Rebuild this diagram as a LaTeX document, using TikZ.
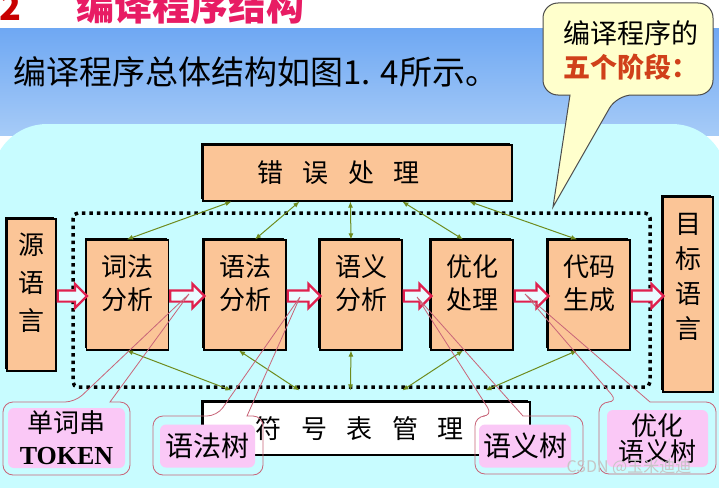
\documentclass[tikz,border=0pt]{standalone}
\usepackage{fontspec}
\setmainfont{Noto Sans CJK SC}
\newfontfamily\tms{Liberation Serif}
\usepackage{xcolor}
\usetikzlibrary{arrows.meta,shapes.arrows,shadows,calc}
\definecolor{boxor}{HTML}{FBC597}
\definecolor{bgtop}{HTML}{6FA8F3}
\definecolor{bgbot}{HTML}{A6CBF7}
\definecolor{bgcyan}{HTML}{C8FCFF}
\definecolor{titlered}{HTML}{E81C64}
\definecolor{numred}{HTML}{C80000}
\definecolor{notebg}{HTML}{FFFFCC}
\definecolor{notered}{HTML}{D0401A}
\definecolor{arrred}{HTML}{E0204E}
\definecolor{arrfill}{HTML}{EAFBFF}
\definecolor{lnkgreen}{HTML}{6E8B1E}
\definecolor{tagpink}{HTML}{FAC8F6}
\definecolor{tagline}{HTML}{C86478}
\begin{document}
\begin{tikzpicture}[x=1pt,y=-1pt,
 box/.style={draw=black,line width=1.2pt,fill=boxor,inner sep=0pt,align=center,
   font=\fontsize{26}{33}\selectfont},
 shadowed/.style={drop shadow={shadow xshift=-1.8pt,shadow yshift=1.8pt,fill=black,opacity=1}},
 phase/.style={box,shadowed,minimum width=82pt,minimum height=110pt,text depth=25pt},
 flow/.style={single arrow,draw=arrred,fill=arrfill,line width=2.2pt,inner xsep=0pt,inner ysep=4.5pt,
   single arrow head extend=6.5pt,single arrow head indent=0pt},
 link/.style={draw=lnkgreen,line width=1pt,{Latex[length=6pt,width=5pt]}-{Latex[length=6pt,width=5pt]}},
 tag/.style={fill=tagpink,rounded corners=6pt,inner sep=0pt,align=center},
 callout/.style={draw=tagline,line width=0.8pt}]
\useasboundingbox (0,0) rectangle (719,487);
\clip (0,0) rectangle (719,487);
% slide background
\fill[white] (0,0) rectangle (719,29);
\shade[top color=bgtop,bottom color=bgbot] (0,29) rectangle (719,135);
\fill[bgcyan,rounded corners=55pt] (-8,124) rectangle (727,600);
% headings
\node[anchor=base west,text=numred,font=\fontsize{36}{36}\selectfont\bfseries] (num) at (-4,21) {2};
\node[anchor=base west,text=titlered,font=\fontsize{38}{38}\selectfont\bfseries] (title) at (73,21) {编译程序结构};
\node[anchor=west,font=\fontsize{33}{33}\selectfont] (sub) at (10,72) {编译程序总体结构如图1. 4所示。};
% note
\draw[fill=notebg,draw=black!70,line width=1pt] (553,207) -- (570,95) [rounded corners=15pt] -- (543,95)
  -- (543,3) -- (713,3) -- (713,95) -- (617,95) [sharp corners] -- cycle;
\node[align=center,font=\fontsize{27}{34}\selectfont] (note) at (631,50)
  {编译程序的\\\textcolor{notered}{\bfseries 五个阶段：}};
% dotted frame
\draw[line width=3.5pt,dash pattern=on 3.5pt off 4pt,rounded corners=5pt] (73,213) rectangle (650,387);
% boxes
\node[box,shadowed,minimum width=309pt,minimum height=56pt] (err) at (357.5,173)
  {错\hspace{.75em}误\hspace{.75em}处\hspace{.75em}理\hspace{38pt}};
\node[box,shadowed,fill=white,minimum width=327pt,minimum height=53pt] (sym) at (366.5,428.5)
  {符\hspace{.75em}号\hspace{.75em}表\hspace{.75em}管\hspace{.75em}理\hspace{14pt}};
\node[box,shadowed,minimum width=49pt,minimum height=152pt,text depth=27pt,font=\fontsize{26}{38}\selectfont] (src) at (31.5,295) {源\\语\\言};
\node[box,shadowed,minimum width=50pt,minimum height=195pt,text depth=37pt,font=\fontsize{26}{35}\selectfont] (tgt) at (688,294.5) {目\\标\\语\\言};
\node[phase] (lex) at (127.5,295) {词法\\分析};
\node[phase] (syn) at (245,295) {语法\\分析};
\node[phase] (sem) at (361,295) {语义\\分析};
\node[phase] (opt) at (472,295) {优化\\处理};
\node[phase] (gen) at (589,295) {代码\\生成};
% hollow arrows
\foreach \a/\b in {src/lex,lex/syn,syn/sem,sem/opt,opt/gen,gen/tgt}
  \path let \p1=(\a.east), \p2=(\b.west) in
    node[flow,minimum height=\x2-\x1,anchor=west] (\a-\b) at (\x1,296) {};
% links to error handling and symbol table
\foreach \p/\a/\b in {lex/-0.5/29,syn/10/97,sem/-10/148,opt/-9/200,gen/-12/267}
  \draw[link] ([xshift=\b pt]err.south west) -- ([xshift=\a pt]\p.north);
\foreach \p/\a/\b in {lex/-0.5/29,syn/-6/97,sem/-10/148,opt/-9/200,gen/-12/283}
  \draw[link] ([xshift=\a pt]\p.south) -- ([xshift=\b pt,yshift=11pt]sym.north west);
% tags
\coordinate (p1) at (189,294);
\coordinate (p2) at (300,297);
\coordinate (p3) at (417,297);
\coordinate (p4) at (525,294);
\node[tag,minimum width=117pt,minimum height=60pt,font=\fontsize{26}{32}\selectfont] (tok) at (66.5,438)
  {单词串\\{\tms\bfseries TOKEN}};
\node[tag,minimum width=95pt,minimum height=43pt,font=\fontsize{28}{28}\selectfont] (tree1) at (207.5,446) {语法树};
\node[tag,minimum width=92pt,minimum height=43pt,font=\fontsize{28}{28}\selectfont] (tree2) at (525,446) {语义树};
\node[tag,minimum width=101pt,minimum height=57pt,font=\fontsize{26}{26}\selectfont] (tree3) at (657.5,438.5) {优化\\语义树};
\draw[callout] (p1) -- (110,402) [rounded corners=10pt] -- (130,402) -- (130,475) -- (3,475) -- (3,402) -- (75,402) [sharp corners] -- (p1);
\draw[callout] (p2) -- (247,416) [rounded corners=10pt] -- (263,416) -- (263,475) -- (153,475) -- (153,416) -- (217,416) [sharp corners] -- (p2);
\draw[callout] (p3) -- (523,416) [rounded corners=10pt] -- (583,416) -- (583,474) -- (475,474) -- (475,416) -- (493,416) [sharp corners] -- (p3);
\draw[callout] (p4) -- (650,402) [rounded corners=10pt] -- (716,402) -- (716,474) -- (599,474) -- (599,402) -- (618,402) [sharp corners] -- (p4);
\node[text=gray!45,font=\fontsize{16}{16}\selectfont] (mark) at (629,467) {CSDN @玉米迪迪};
\end{tikzpicture}
\end{document}
